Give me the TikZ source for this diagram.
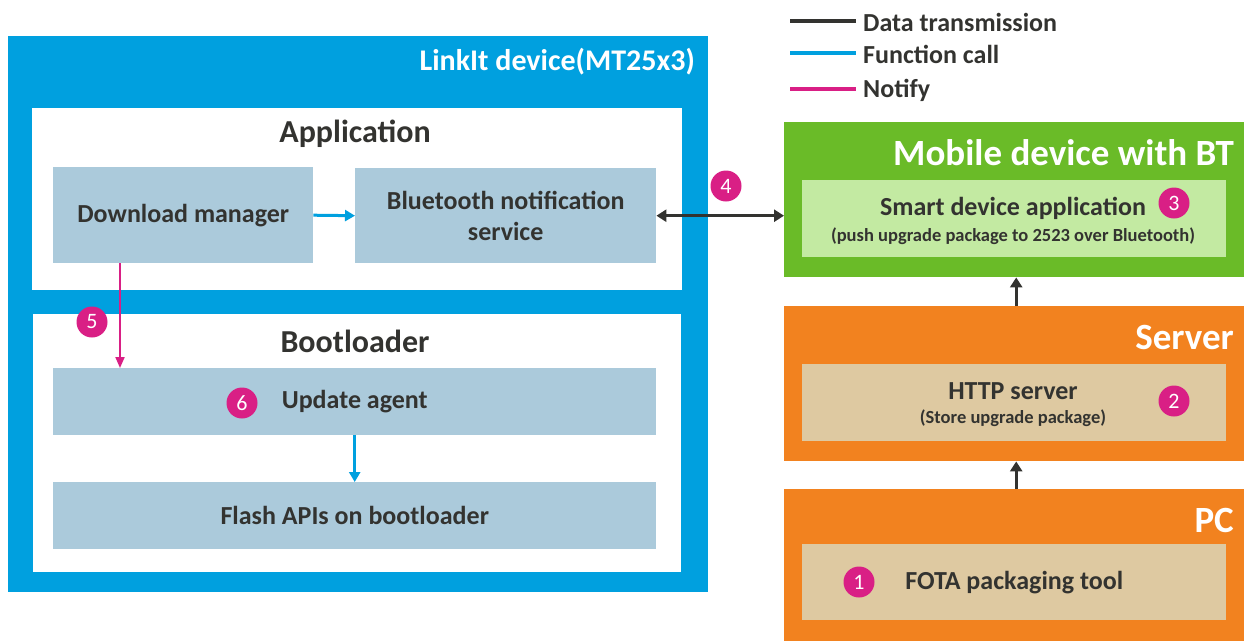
\documentclass[tikz,border=0pt]{standalone}
\usepackage{fontspec}
\setmainfont{Carlito}
\usetikzlibrary{arrows.meta}
\definecolor{lblue}{RGB}{0,160,223}
\definecolor{boxblue}{RGB}{171,202,219}
\definecolor{mgreen}{RGB}{106,187,40}
\definecolor{lgreen}{RGB}{195,234,162}
\definecolor{orng}{RGB}{242,130,31}
\definecolor{tan}{RGB}{222,201,161}
\definecolor{mag}{RGB}{217,31,133}
\definecolor{dtext}{RGB}{51,51,48}
\tikzset{
  area/.style={draw=none, anchor=north west, inner sep=0pt},
  inbox/.style={draw=none, anchor=north west, inner sep=0pt, align=center, text=dtext, font=\bfseries\fontsize{26}{30}\selectfont},
  ttl/.style={inner sep=0pt, font=\bfseries\fontsize{32}{36}\selectfont, text=dtext},
  wttl/.style={inner sep=0pt, text=white, anchor=east},
  badge/.style={circle, fill=mag, text=white, inner sep=0pt, minimum size=31pt, font=\fontsize{22}{22}\selectfont},
  data/.style={draw=dtext, line width=3pt, {Triangle[length=10pt,width=12pt]}-{Triangle[length=10pt,width=12pt]}},
  dataup/.style={draw=dtext, line width=3pt, -{Triangle[length=10pt,width=12pt]}},
  fcall/.style={draw=lblue, line width=3pt, -{Triangle[length=10pt,width=11pt]}},
  notify/.style={draw=mag, line width=2pt, -{Triangle[length=11pt,width=9pt]}},
  legline/.style={line width=4pt},
  legtext/.style={inner sep=0pt, anchor=west, text=dtext, font=\bfseries\fontsize{26}{30}\selectfont}
}
\begin{document}
\begin{tikzpicture}[x=1pt,y=-1pt]
\useasboundingbox (0,0) rectangle (1244,640);
% Legend
\coordinate (l1a) at (790,21); \coordinate (l1b) at (856,21);
\coordinate (l2a) at (790,53); \coordinate (l2b) at (856,53);
\coordinate (l3a) at (790,89); \coordinate (l3b) at (856,89);
\draw[legline, dtext] (l1a) -- (l1b);
\draw[legline, lblue] (l2a) -- (l2b);
\draw[legline, mag] (l3a) -- (l3b);
\node[legtext] (lt1) at (863,22) {Data transmission};
\node[legtext] (lt2) at (863,54) {Function call};
\node[legtext] (lt3) at (863,90) {Notify};
% LinkIt device
\node[area, fill=lblue, minimum width=700pt, minimum height=556pt] (linkit) at (8,36) {};
\node[wttl, font=\bfseries\fontsize{30}{34}\selectfont] (linkitt) at (695,62) {LinkIt device(MT25x3)};
\node[area, fill=white, minimum width=650pt, minimum height=182pt] (app) at (32,108) {};
\node[ttl] (appt) at (355,134) {Application};
\node[inbox, fill=boxblue, minimum width=260pt, minimum height=96pt] (dm) at (53,167) {Download manager};
\node[inbox, fill=boxblue, minimum width=301pt, minimum height=95pt] (bt) at (355,168) {Bluetooth notification\\[1pt]service};
\node[area, fill=white, minimum width=648pt, minimum height=258pt] (boot) at (33,314) {};
\node[ttl] (boott) at (355,341) {Bootloader};
\node[inbox, fill=boxblue, minimum width=603pt, minimum height=67pt] (ua) at (53,368) {Update agent};
\node[inbox, fill=boxblue, minimum width=603pt, minimum height=67pt] (flash) at (53,482) {Flash APIs on bootloader};
\node[badge] (b6) at (242,403) {6};
\node[badge] (b5) at (92,322) {5};
% Mobile
\node[area, fill=mgreen, minimum width=460pt, minimum height=155pt] (mobile) at (784,122) {};
\node[wttl, font=\bfseries\fontsize{37}{40}\selectfont] (mobilet) at (1234,153) {Mobile device with BT};
\node[area, fill=lgreen, minimum width=424pt, minimum height=77pt] (sda) at (802,180) {};
\node[inner sep=0pt, text=dtext, font=\bfseries\fontsize{26}{30}\selectfont] (sdat) at (1013,208) {Smart device application};
\node[inner sep=0pt, text=dtext, font=\bfseries\fontsize{18.5}{22}\selectfont] (sdas) at (1013,236) {(push upgrade package to 2523 over Bluetooth)};
\node[badge] (b3) at (1174,203) {3};
% Server
\node[area, fill=orng, minimum width=460pt, minimum height=155pt] (server) at (784,306) {};
\node[wttl, font=\bfseries\fontsize{37}{40}\selectfont] (servert) at (1234,337) {Server};
\node[area, fill=tan, minimum width=424pt, minimum height=77pt] (http) at (802,364) {};
\node[inner sep=0pt, text=dtext, font=\bfseries\fontsize{26}{30}\selectfont] (httpt) at (1013,391) {HTTP server};
\node[inner sep=0pt, text=dtext, font=\bfseries\fontsize{18.5}{22}\selectfont] (https) at (1013,418) {(Store upgrade package)};
\node[badge] (b2) at (1174,401) {2};
% PC
\node[area, fill=orng, minimum width=460pt, minimum height=152pt] (pc) at (784,489) {};
\node[wttl, font=\bfseries\fontsize{37}{40}\selectfont] (pct) at (1234,520) {PC};
\node[inbox, fill=tan, minimum width=424pt, minimum height=76pt] (fota) at (802,544) {FOTA packaging tool};
\node[badge] (b1) at (859,582) {1};
% Connectors
\draw[fcall] (dm.east) -- (bt.west);
\draw[notify] ([xshift=67pt]dm.south west) -- ([xshift=67pt]ua.north west);
\draw[fcall] (ua.south) -- (flash.north);
\draw[data] (bt.east) -- (bt.east -| mobile.west);
\node[badge] (b4) at (726,186) {4};
\draw[dataup] ([xshift=2pt]pc.north) -- ([xshift=2pt]server.south);
\draw[dataup] ([xshift=2pt]server.north) -- ([xshift=2pt]mobile.south);
\end{tikzpicture}
\end{document}
